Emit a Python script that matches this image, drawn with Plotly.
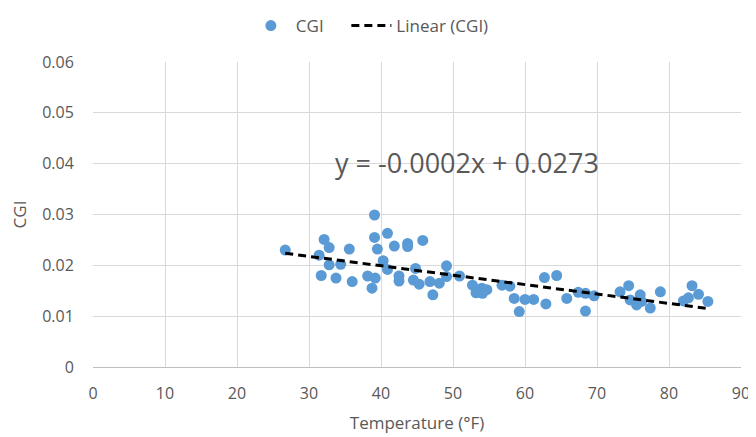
import numpy as np
import plotly.graph_objects as go

temperature = [26.7, 32.1, 31.4, 32.8, 31.7, 32.8, 34.4, 33.75, 35.6, 36.0,
               39.1, 39.1, 39.5, 40.9, 38.15, 39.2, 38.75, 40.3, 40.9, 41.85,
               43.7, 43.7, 45.8, 42.5, 42.5, 44.8, 44.5, 45.3, 47.2, 46.8,
               48.1, 49.1, 49.1, 50.9, 52.7, 53.2, 54.1, 54.7, 54.0, 56.8,
               57.9, 58.5, 59.2, 60.0, 61.2, 62.7, 64.4, 62.9, 65.8, 67.4,
               68.4, 68.4, 69.6, 73.2, 74.4, 74.6, 76.0, 75.5, 76.2, 77.4,
               78.8, 82.0, 82.7, 83.2, 84.1, 85.4]
cgi = [0.0230, 0.0251, 0.0220, 0.0235, 0.0180, 0.0201, 0.0202, 0.0175, 0.0232, 0.0168,
       0.0299, 0.0255, 0.0232, 0.0263, 0.0179, 0.0175, 0.0155, 0.0209, 0.0192, 0.0238,
       0.0243, 0.0237, 0.0249, 0.0179, 0.0169, 0.0194, 0.0171, 0.0163, 0.0142, 0.0168,
       0.0165, 0.0199, 0.0178, 0.0179, 0.0161, 0.0146, 0.0145, 0.0152, 0.0155, 0.0161,
       0.0159, 0.0135, 0.0109, 0.0133, 0.0133, 0.0176, 0.0180, 0.0124, 0.0135, 0.0147,
       0.0145, 0.0110, 0.0140, 0.0148, 0.0160, 0.0132, 0.0142, 0.0122, 0.0129, 0.0116,
       0.0148, 0.0130, 0.0136, 0.0160, 0.0143, 0.0129]

x_ticks = [0, 10, 20, 30, 40, 50, 60, 70, 80, 90]
y_ticks = [0, 0.01, 0.02, 0.03, 0.04, 0.05, 0.06]
y_tick_labels = ["0", "0.01", "0.02", "0.03", "0.04", "0.05", "0.06"]
equation_text = "y = -0.0002x + 0.0273"

slope, intercept = np.polyfit(temperature, cgi, 1)
trend_x = [min(temperature), max(temperature)]
trend_y = [slope * v + intercept for v in trend_x]

font_family = "Open Sans, Lato, Noto Sans, sans-serif"
text_color = "#595959"

fig = go.Figure()
fig.add_trace(go.Scatter(
    x=temperature, y=cgi, mode="markers", name="CGI" + "\u00a0" * 4,
    marker=dict(color="#5b9bd5", size=11, line=dict(width=0)),
))
fig.add_trace(go.Scatter(
    x=trend_x, y=trend_y, mode="lines", name="Linear (CGI)",
    line=dict(color="black", width=3, dash="8px,5px"),
))

fig.add_annotation(
    x=52, y=0.0403, xref="x", yref="y", text=equation_text, showarrow=False,
    font=dict(size=27, color=text_color, family=font_family),
)

# page body adds an 8px offset, so the figure is sized to compensate
fig.update_layout(
    width=748, height=429,
    margin=dict(l=85, r=15, t=54, b=70, autoexpand=False),
    paper_bgcolor="white", plot_bgcolor="white",
    font=dict(family=font_family, size=16, color=text_color),
    showlegend=True,
    legend=dict(orientation="h", xref="container", x=0.318, xanchor="left",
                yref="container", y=1.0, yanchor="top",
                font=dict(size=17, color=text_color), itemwidth=40),
)
fig.update_xaxes(
    range=[0, 90], tickvals=x_ticks, showgrid=True, gridcolor="#d9d9d9", gridwidth=1,
    showline=True, linecolor="#bfbfbf", linewidth=1, zeroline=False,
    ticks="outside", ticklen=12, tickcolor="rgba(0,0,0,0)",
    title=dict(text="Temperature (°F)", font=dict(size=17, color=text_color), standoff=13),
    tickfont=dict(size=16, color=text_color),
)
fig.update_yaxes(
    range=[0, 0.06], tickvals=y_ticks, ticktext=y_tick_labels, showgrid=True,
    gridcolor="#d9d9d9", gridwidth=1, zeroline=False, showline=False,
    ticks="outside", ticklen=15, tickcolor="rgba(0,0,0,0)",
    title=dict(text="CGI", font=dict(size=17, color=text_color), standoff=14),
    tickfont=dict(size=16, color=text_color),
)

fig.write_html("out.html")
